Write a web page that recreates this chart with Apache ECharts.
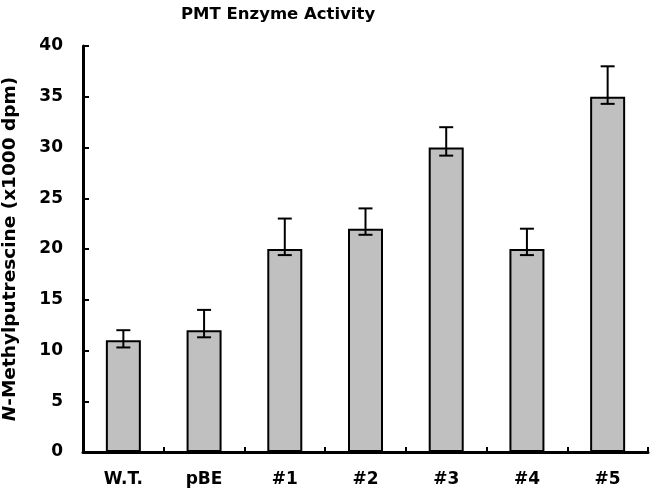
<!DOCTYPE html>
<html><head><meta charset="utf-8">
<script src="https://cdn.jsdelivr.net/npm/echarts@6/dist/echarts.min.js"></script>
<style>html,body{margin:0;padding:0;background:#fff}#c{width:650px;height:491px}</style>
</head><body><div id="c"></div>
<script>
const categories = ['W.T.', 'pBE', '#1', '#2', '#3', '#4', '#5'];
const values = [11, 12, 20, 22, 30, 20, 35];
const errLow = [10.3, 11.3, 19.4, 21.4, 29.2, 19.4, 34.3];
const errHigh = [12, 14, 23, 24, 32, 22, 38];
const yTicks = {min: 0, max: 40, interval: 5};

const F = 'DejaVu Sans, Verdana, sans-serif';
const chart = echarts.init(document.getElementById('c'));
chart.setOption({
  animation: false,
  title: {text: 'PMT Enzyme Activity', left: 176, top: 1,
    textStyle: {fontFamily: F, fontWeight: 'bold', fontSize: 16.5, color: '#000'}},
  grid: {left: 83, right: 2, top: 46, bottom: 39, outerBoundsMode: 'none', containLabel: false},
  xAxis: {type: 'category', data: categories,
    axisLine: {lineStyle: {color: '#000', width: 3}},
    axisTick: {show: true, inside: true, length: 5, lineStyle: {color: '#000', width: 2}},
    axisLabel: {fontFamily: F, fontWeight: 'bold', fontSize: 17, color: '#000', margin: 19}},
  yAxis: {type: 'value', min: yTicks.min, max: yTicks.max, interval: yTicks.interval,
    name: '{i|N}-Methylputrescine (x1000 dpm)', nameLocation: 'middle', nameGap: 63,
    nameTextStyle: {fontFamily: F, fontWeight: 'bold', fontSize: 18.5, color: '#000',
      rich: {i: {fontFamily: F, fontWeight: 'bold', fontStyle: 'italic', fontSize: 18.5, color: '#000'}}},
    axisLine: {show: true, lineStyle: {color: '#000', width: 3}},
    axisTick: {show: true, inside: true, length: 6, lineStyle: {color: '#000', width: 2}},
    splitLine: {show: false},
    axisLabel: {fontFamily: F, fontWeight: 'bold', fontSize: 17, color: '#000', margin: 20}},
  series: [
    {type: 'bar', data: values, barWidth: 35,
      itemStyle: {color: '#c0c0c0', borderColor: '#000', borderWidth: 2}},
    {type: 'custom', z: 10,
      data: categories.map((c, i) => [i, errLow[i], errHigh[i]]),
      renderItem: function (params, api) {
        const lo = api.coord([api.value(0), api.value(1)]);
        const hi = api.coord([api.value(0), api.value(2)]);
        const w = 7;
        const st = {stroke: '#000', lineWidth: 2};
        return {type: 'group', children: [
          {type: 'line', shape: {x1: hi[0], y1: hi[1], x2: lo[0], y2: lo[1]}, style: st},
          {type: 'line', shape: {x1: hi[0] - w, y1: hi[1], x2: hi[0] + w, y2: hi[1]}, style: st},
          {type: 'line', shape: {x1: lo[0] - w, y1: lo[1], x2: lo[0] + w, y2: lo[1]}, style: st}
        ]};
      }}
  ]
});
</script></body></html>
